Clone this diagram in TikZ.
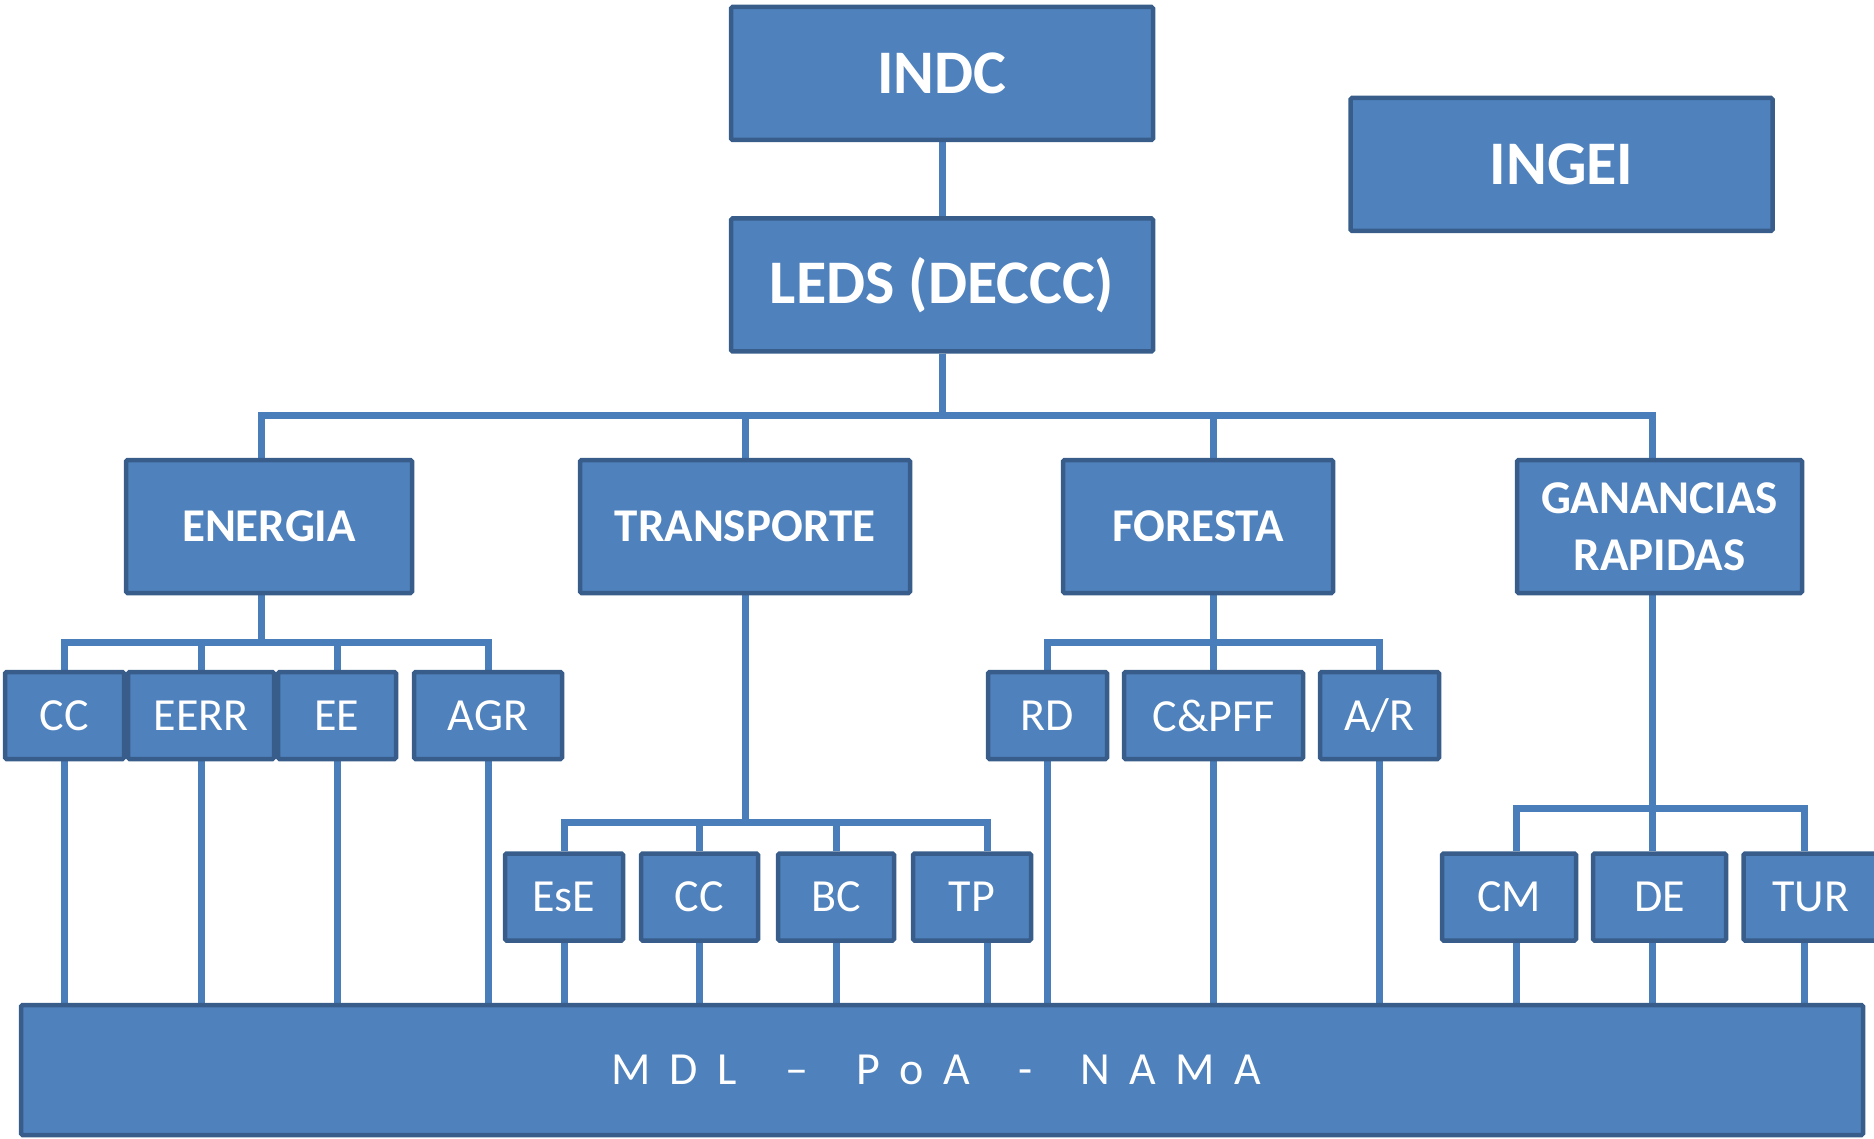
\documentclass[tikz,border=0pt]{standalone}
\usepackage{fontspec}
\setmainfont{Carlito}
\usetikzlibrary{backgrounds}
\definecolor{boxfill}{HTML}{4F81BD}
\definecolor{boxline}{HTML}{385D8A}
\definecolor{linkblue}{HTML}{4A7EBB}
\newcommand{\lsp}{\hspace{0.42em}}
\newcommand{\wsp}{\hspace{1.05em}}

\begin{document}
\begin{tikzpicture}[x=1pt,y=-1pt,
  box/.style={draw=boxline,fill=boxfill,line width=4.5pt,rounded corners=1.5pt,text=white,inner sep=0pt,align=center},
  head/.style={box,font=\bfseries\fontsize{62}{70}\selectfont,minimum width=422pt,minimum height=133pt},
  sector/.style={box,font=\bfseries\fontsize{47}{57}\selectfont,minimum height=133pt},
  item/.style={box,font=\fontsize{46}{50}\selectfont,minimum height=87pt},
  link/.style={draw=linkblue,line width=7pt}]
 \useasboundingbox (0,0) rectangle (1874,1139);

 \node[head] (indc) at (942,73.5) {INDC};
 \node[head] (leds) at (942,285) {LEDS (DECCC)};
 \node[head] (ingei) at (1561.5,164.5) {INGEI};

 \node[sector,minimum width=286pt] (energia) at (269,526.5) {ENERGIA};
 \node[sector,minimum width=330pt] (transporte) at (745,526.5) {TRANSPORTE};
 \node[sector,minimum width=270pt] (foresta) at (1198,526.5) {FORESTA};
 \node[sector,minimum width=285pt] (ganancias) at (1659.5,526.5) {GANANCIAS\\RAPIDAS};

 \node[item,minimum width=119pt] (cc1) at (64.5,715.5) {CC};
 \node[item,minimum width=146pt] (eerr) at (201,715.5) {EERR};
 \node[item,minimum width=118pt] (ee) at (337,715.5) {EE};
 \node[item,minimum width=148pt] (agr) at (488,715.5) {AGR};

 \node[item,minimum width=118pt] (ese) at (564,897) {EsE};
 \node[item,minimum width=117pt] (cc2) at (699.5,897) {CC};
 \node[item,minimum width=116pt] (bc) at (836,897) {BC};
 \node[item,minimum width=118pt] (tp) at (972,897) {TP};

 \node[item,minimum width=119pt] (rd) at (1047.5,715.5) {RD};
 \node[item,minimum width=179pt] (cpff) at (1213.5,715.5) {C\&PFF};
 \node[item,minimum width=119pt] (ar) at (1379.5,715.5) {A/R};

 \node[item,minimum width=134pt] (cm) at (1509,897) {CM};
 \node[item,minimum width=133pt] (de) at (1659.5,897) {DE};
 \node[item,minimum width=134pt] (tur) at (1810.5,897) {TUR};

 \node[box,minimum width=1842pt,minimum height=130pt,font=\fontsize{46}{50}\selectfont] (mdl) at (942,1070)
  {M\lsp D\lsp L\wsp –\wsp P\lsp o\lsp A\wsp -\wsp N\lsp A\lsp M\lsp A\hspace{12pt}};

 \begin{pgfonlayer}{background}
 \draw[link] (indc.south) -- (leds.north);
 \foreach \s/\dx in {energia/-8,transporte/0,foresta/15,ganancias/-7.5}
  \draw[link] (leds.south) -- ++(0,62) -| ([xshift=\dx pt]\s.north);
 \foreach \s in {cc1,eerr,ee,agr}
  \draw[link] ([xshift=-8pt]energia.south) -- ++(0,47) -| (\s.north);
 \foreach \s/\dx in {ese/0,cc2/0,bc/0,tp/15}
  \draw[link] (transporte.south) -- ++(0,227) -| ([xshift=\dx pt]\s.north);
 \foreach \s in {rd,cpff,ar}
  \draw[link] ([xshift=15pt]foresta.south) -- ++(0,47) -| (\s.north);
 \foreach \s/\dx in {cm/7,de/-7.5,tur/-6.5}
  \draw[link] ([xshift=-7.5pt]ganancias.south) -- ++(0,213) -| ([xshift=\dx pt]\s.north);
 % down to MDL - PoA - NAMA
 \foreach \s/\dx in {cc1/0,eerr/0,ee/0,agr/0,ese/0,cc2/0,bc/0,tp/15,rd/0,cpff/0,ar/0,cm/7,de/-7.5,tur/-6.5}{
  \path ([xshift=\dx pt]\s.south) coordinate (t);
  \draw[link] (t) -- (t |- mdl.north);
 }
 \end{pgfonlayer}
\end{tikzpicture}
\end{document}
